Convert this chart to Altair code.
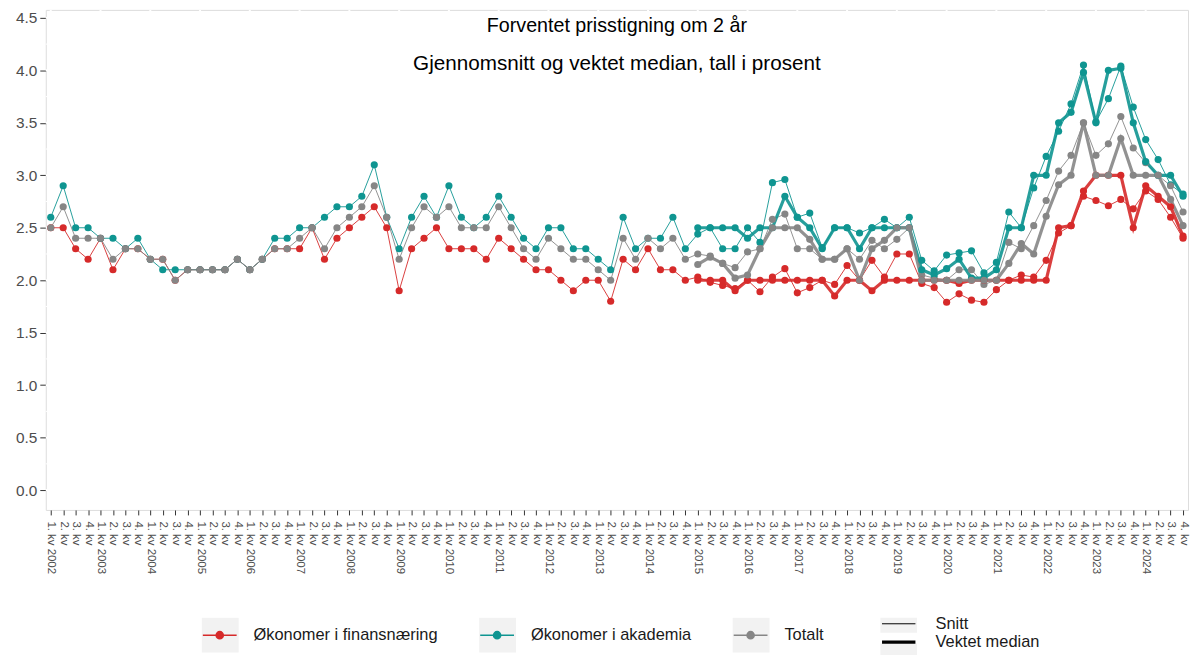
import altair as alt
import pandas as pd

# ---------------- data ----------------
years = list(range(2002, 2025))
quarter_names = ["1. kv", "2. kv", "3. kv", "4. kv"]
x_labels = []
for yr in years:
    for qi, qn in enumerate(quarter_names):
        x_labels.append(f"{qn} {yr}" if qi == 0 else f"{qn}|{yr}")
# display text of the tick labels
x_display = [lab if lab.startswith("1.") else lab.split("|")[0] for lab in x_labels]

series_names = ["Økonomer i finansnæring", "Økonomer i akademia", "Totalt"]
series_colors = ["#D62A2A", "#0F9591", "#868686"]
type_names = ["Snitt", "Vektet median"]

fin_snitt = [2.5, 2.5, 2.3, 2.2, 2.4, 2.1, 2.3, 2.3, 2.2, 2.2, 2.0, 2.1, 2.1, 2.1, 2.1, 2.2, 2.1, 2.2, 2.3, 2.3,
             2.3, 2.5, 2.2, 2.4, 2.5, 2.6, 2.7, 2.5, 1.9, 2.3, 2.4, 2.5, 2.3, 2.3, 2.3, 2.2, 2.4, 2.3, 2.2, 2.1,
             2.1, 2.0, 1.9, 2.0, 2.0, 1.8, 2.2, 2.1, 2.3, 2.1, 2.1, 2.0, 2.03, 1.98, 1.95, 1.92, 2.0, 1.89, 2.03, 2.11,
             1.88, 1.93, 2.0, 1.96, 2.14, 2.0, 2.19, 2.03, 2.25, 2.25, 1.97, 1.93, 1.79, 1.87, 1.81, 1.79, 1.91, 2.0, 2.05, 2.03,
             2.19, 2.45, 2.52, 2.8, 2.76, 2.71, 2.77, 2.68, 2.85, 2.77, 2.6, 2.4]
akad_snitt = [2.6, 2.9, 2.5, 2.5, 2.4, 2.4, 2.3, 2.4, 2.2, 2.1, 2.1, 2.1, 2.1, 2.1, 2.1, 2.2, 2.1, 2.2, 2.4, 2.4,
              2.5, 2.5, 2.6, 2.7, 2.7, 2.8, 3.1, 2.6, 2.3, 2.6, 2.8, 2.6, 2.9, 2.6, 2.5, 2.6, 2.8, 2.6, 2.4, 2.3,
              2.5, 2.5, 2.3, 2.3, 2.2, 2.1, 2.6, 2.3, 2.4, 2.4, 2.6, 2.3, 2.44, 2.5, 2.3, 2.3, 2.5, 2.36, 2.93, 2.96,
              2.6, 2.64, 2.31, 2.5, 2.5, 2.45, 2.5, 2.58, 2.5, 2.6, 2.19, 2.09, 2.24, 2.26, 2.28, 2.07, 2.17, 2.65, 2.5, 2.88,
              3.18, 3.42, 3.68, 4.05, 3.51, 3.73, 4.04, 3.65, 3.34, 3.15, 2.91, 2.82]
tot_snitt = [2.5, 2.7, 2.4, 2.4, 2.4, 2.2, 2.3, 2.3, 2.2, 2.2, 2.0, 2.1, 2.1, 2.1, 2.1, 2.2, 2.1, 2.2, 2.3, 2.3,
             2.4, 2.5, 2.3, 2.5, 2.6, 2.7, 2.9, 2.6, 2.2, 2.5, 2.7, 2.6, 2.7, 2.5, 2.5, 2.5, 2.7, 2.5, 2.3, 2.2,
             2.4, 2.3, 2.2, 2.2, 2.1, 2.0, 2.4, 2.2, 2.4, 2.3, 2.4, 2.2, 2.25, 2.23, 2.16, 2.12, 2.27, 2.3, 2.58, 2.63,
             2.3, 2.3, 2.2, 2.2, 2.3, 2.2, 2.38, 2.3, 2.39, 2.5, 2.05, 2.02, 2.0, 2.1, 2.1, 1.96, 2.0, 2.36, 2.3, 2.52,
             2.76, 3.04, 3.19, 3.5, 3.19, 3.3, 3.56, 3.26, 3.12, 3.0, 2.9, 2.65]

median_start = "1. kv 2015"
fin_median = [2.0, 2.0, 2.0, 1.9, 2.0, 2.0, 2.0, 2.0, 2.0, 2.0, 2.0, 1.85, 2.0, 2.0, 1.9, 2.0, 2.0, 2.0, 2.0, 2.0,
              2.0, 1.97, 2.0, 2.0, 2.0, 2.0, 2.0, 2.0, 2.0, 2.5, 2.52, 2.85, 3.0, 3.0, 3.0, 2.5, 2.9, 2.8, 2.7, 2.42]
akad_median = [2.5, 2.5, 2.5, 2.5, 2.4, 2.5, 2.5, 2.8, 2.6, 2.5, 2.3, 2.5, 2.5, 2.3, 2.5, 2.5, 2.5, 2.5, 2.1, 2.05,
               2.11, 2.2, 2.02, 2.02, 2.1, 2.5, 2.5, 3.0, 3.0, 3.5, 3.6, 3.98, 3.5, 4.0, 4.02, 3.5, 3.13, 3.0, 3.0, 2.8]
tot_median = [2.15, 2.22, 2.16, 2.02, 2.05, 2.3, 2.5, 2.5, 2.5, 2.39, 2.2, 2.2, 2.3, 2.0, 2.3, 2.38, 2.5, 2.5, 2.0, 2.0,
              2.0, 2.0, 2.0, 2.0, 2.0, 2.16, 2.35, 2.25, 2.61, 2.91, 3.0, 3.5, 3.0, 3.0, 3.35, 3.0, 3.0, 3.0, 2.77, 2.52]

y_ticks = [0.0, 0.5, 1.0, 1.5, 2.0, 2.5, 3.0, 3.5, 4.0, 4.5]
y_minor = [0.25, 0.75, 1.25, 1.75, 2.25, 2.75, 3.25, 3.75, 4.25]
year_starts = [lab for lab in x_labels if lab.startswith("1.")]

title_lines = ["Forventet prisstigning om 2 år", "Gjennomsnitt og vektet median, tall i prosent"]

# ---------------- long table ----------------
rows = []
m0 = x_labels.index(median_start)
for tname, arrays in [("Snitt", [fin_snitt, akad_snitt, tot_snitt]),
                      ("Vektet median", [fin_median, akad_median, tot_median])]:
    for sname, vals in zip(series_names, arrays):
        offset = 0 if tname == "Snitt" else m0
        for k, v in enumerate(vals):
            rows.append({"kvartal": x_labels[offset + k], "serie": sname, "type": tname, "verdi": v})
df = pd.DataFrame(rows)

# ---------------- encodings ----------------
FONT = "Liberation Sans"
KEY_BG = "#F2F2F2"
label_lookup = "{" + ",".join(f'"{a}":"{b}"' for a, b in zip(x_labels, x_display)) + "}"

x_axis = alt.Axis(title=None, grid=False, domain=False, labelAngle=90, labelAlign="left",
                  labelBaseline="middle", labelFontSize=11.5, labelColor="#4D4D4D", labelFont=FONT,
                  labelPadding=6, tickSize=5, tickColor="#333333", labelOverlap=False,
                  labelExpr=f"{label_lookup}[datum.value]")
x_enc = alt.X("kvartal:O", sort=x_labels, scale=alt.Scale(type="point", padding=0.4), axis=x_axis)

y_axis = alt.Axis(title=None, grid=False, domain=False, values=y_ticks, format=".1f",
                  labelFontSize=15.5, labelColor="#4D4D4D", labelFont=FONT, labelPadding=3,
                  tickSize=6, tickColor="#333333")
y_scale = alt.Scale(domain=[-0.189, 4.576], nice=False, zero=False)
y_enc = alt.Y("verdi:Q", scale=y_scale, axis=y_axis)

LEG_Y = 611
common_color_leg = dict(title=None, orient="none", legendX=157, legendY=LEG_Y, direction="horizontal",
                        symbolSize=1156, symbolStrokeWidth=1.6, labelFontSize=16.5, labelFont=FONT,
                        labelLimit=0, labelOffset=16, columnPadding=41, clipHeight=36, symbolOpacity=1)
circle_path = "M-1,0H1M0.21,0A0.21,0.21,0,1,1,-0.21,0A0.21,0.21,0,1,1,0.21,0Z"
color_legend = alt.Legend(symbolType=circle_path, labelColor="#1A1A1A", zindex=2, **common_color_leg)
color_enc = alt.Color("serie:N", scale=alt.Scale(domain=series_names, range=series_colors),
                      legend=color_legend)

key_legend = alt.Legend(symbolType="M-1.12,-1.03H1.12V1.03H-1.12Z", labelOpacity=0, values=series_names,
                        symbolStrokeColor=KEY_BG, symbolFillColor=KEY_BG, zindex=1, **common_color_leg)
key_enc = alt.Opacity("serie:N", scale=alt.Scale(domain=series_names[::-1], range=[1, 1, 1]),
                      legend=key_legend)

# small nominal symbol size -> rows as tall as the label text, no clipping needed
common_size_leg = dict(title=None, orient="none", legendX=848, legendY=LEG_Y - 2, direction="vertical",
                       symbolSize=256, symbolStrokeWidth=3.2, labelFontSize=16.5, labelFont=FONT,
                       labelLimit=0, labelOffset=27, rowPadding=0, symbolOpacity=1)
size_legend = alt.Legend(symbolType="M-2.1,0H2.1", symbolStrokeColor="black", labelColor="#1A1A1A",
                         zindex=2, **common_size_leg)
sw_enc = alt.StrokeWidth("type:N", scale=alt.Scale(domain=type_names, range=[1.0, 3.2]),
                         legend=size_legend)
key2_legend = alt.Legend(symbolType="M-2.1,-0.75H2.1V0.75H-2.1Z", labelOpacity=0, values=type_names,
                         symbolStrokeColor=KEY_BG, zindex=1, **common_size_leg)
key2_enc = alt.Fill("type:N", scale=alt.Scale(domain=type_names[::-1] + [" "], range=[KEY_BG, KEY_BG, KEY_BG]),
                    legend=key2_legend)

# ---------------- layers ----------------
vgrid = alt.Chart(pd.DataFrame({"kvartal": year_starts})).mark_rule(
    color="white", strokeWidth=2).encode(x=x_enc)
hminor = alt.Chart(pd.DataFrame({"verdi": y_minor})).mark_rule(
    color="white", strokeWidth=1).encode(y=y_enc)
hmajor = alt.Chart(pd.DataFrame({"verdi": y_ticks})).mark_rule(
    color="white", strokeWidth=2).encode(y=y_enc)

# legend key backgrounds (no marks drawn: only their legends are used)
keys1 = alt.Chart(df).transform_filter("false").mark_square(color=KEY_BG).encode(opacity=key_enc)
keys2 = alt.Chart(df).transform_filter("false").mark_square().encode(fill=key2_enc)

lines = alt.Chart(df).mark_line(opacity=0.9).encode(
    x=x_enc, y=y_enc, color=color_enc, strokeWidth=sw_enc, detail="type:N")
points = alt.Chart(df).mark_circle(size=52, opacity=1).encode(
    x=x_enc, y=y_enc, color=color_enc)

t1 = alt.Chart(pd.DataFrame({"t": [title_lines[0]]})).mark_text(
    font=FONT, fontSize=19.8, color="#000000", align="center", baseline="middle").encode(
    x=alt.value(574.5), y=alt.value(16), text="t:N")
t2 = alt.Chart(pd.DataFrame({"t": [title_lines[1]]})).mark_text(
    font=FONT, fontSize=20.8, color="#000000", align="center", baseline="middle").encode(
    x=alt.value(574.5), y=alt.value(54), text="t:N")

chart = alt.layer(vgrid, hminor, hmajor, keys1, keys2, lines, points, t1, t2).properties(
    width=1149, height=503,
    autosize=alt.AutoSizeParams(type="none"),
    padding={"left": 38, "top": 0, "right": 2, "bottom": 144},
).configure_view(fill="#EBEBEB", stroke=None).configure(background="white")

chart.save("out.html", embed_options={"renderer": "svg", "actions": False})
